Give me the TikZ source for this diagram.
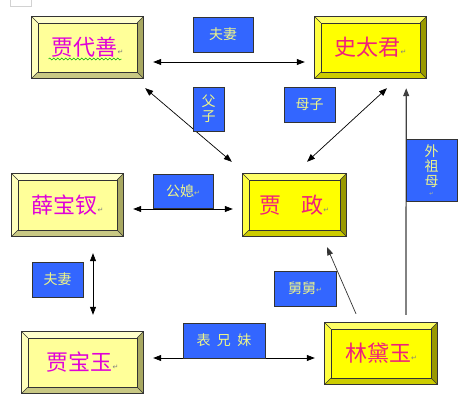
\documentclass[tikz,border=0pt]{standalone}
\usepackage{fontspec}
\newfontfamily\cjk{Noto Sans CJK SC}
\newfontfamily\dejavu{DejaVu Sans}
\usetikzlibrary{arrows.meta,calc,decorations.pathmorphing}
\definecolor{paleface}{HTML}{FFFF99}
\definecolor{paletop}{HTML}{FFFFCC}
\definecolor{paleleft}{HTML}{FFFFBB}
\definecolor{paleright}{HTML}{A8A862}
\definecolor{palebottom}{HTML}{C8C884}
\definecolor{brightface}{HTML}{FFFF00}
\definecolor{brighttop}{HTML}{FFFF66}
\definecolor{brightleft}{HTML}{FFFF40}
\definecolor{brightright}{HTML}{999900}
\definecolor{brightbottom}{HTML}{CCCC00}
\definecolor{palename}{HTML}{E000D8}
\definecolor{brightname}{HTML}{F0207A}
\definecolor{lblblue}{HTML}{3366FF}
\definecolor{lbltext}{HTML}{EEF58A}
\definecolor{edgedark}{HTML}{333333}
\newcommand\retmark[1]{{\dejavu\fontsize{7}{7}\selectfont\color{#1}\raisebox{0.3ex}{↵}}}
\newcommand\bevelparts[2]{%
  \fill[#2top] (#1.north west) -- (#1.north east) -- ($(#1.north east)+(-6,6)$) -- ($(#1.north west)+(6,6)$) -- cycle;
  \fill[#2left] (#1.north west) -- (#1.south west) -- ($(#1.south west)+(6,-6)$) -- ($(#1.north west)+(6,6)$) -- cycle;
  \fill[#2right] (#1.north east) -- (#1.south east) -- ($(#1.south east)+(-6,-6)$) -- ($(#1.north east)+(-6,6)$) -- cycle;
  \fill[#2bottom] (#1.south west) -- (#1.south east) -- ($(#1.south east)+(-6,-6)$) -- ($(#1.south west)+(6,-6)$) -- cycle;
  \draw[edgedark,line width=0.6pt] ($(#1.north west)+(6,6)$) rectangle ($(#1.south east)+(-6,-6)$);
  \draw[edgedark,line width=0.4pt] (#1.north west) -- ($(#1.north west)+(6,6)$)
     (#1.north east) -- ($(#1.north east)+(-6,6)$)
     (#1.south west) -- ($(#1.south west)+(6,-6)$)
     (#1.south east) -- ($(#1.south east)+(-6,-6)$);
  \draw[edgedark,line width=1pt] (#1.north west) rectangle (#1.south east);
}
\tikzset{
  namebox/.style={inner sep=0pt, minimum height=61pt, font=\cjk\fontsize{22}{22}\selectfont},
  palebox/.style={namebox, fill=paleface, text=palename},
  brightbox/.style={namebox, fill=brightface, text=brightname},
  lbl/.style={fill=lblblue, draw=edgedark, line width=0.6pt, inner sep=0pt, text=lbltext,
    font=\cjk\fontsize{14}{16}\selectfont, align=center},
  tip/.style={-{Triangle[length=8pt,width=6pt]}},
  dbl/.style={{Triangle[length=8pt,width=6pt]}-{Triangle[length=8pt,width=6pt]}},
  conn/.style={draw=black, line width=0.7pt},
}
\begin{document}
\begin{tikzpicture}[x=1pt,y=-1pt]
\useasboundingbox (0,0) rectangle (474,415);
\fill[white] (0,0) rectangle (474,415);
% faint corner mark
\draw[gray!35, line width=0.6pt] (10,-2) -- (10,6) -- (31,6) -- (31,-2);

% person boxes
\node[palebox, minimum width=111pt] (dai) at (87.5,47.5) {贾代善\retmark{gray}};
\node[brightbox, minimum width=111pt] (shi) at (370.5,47.5) {史太君\retmark{gray}};
\node[palebox, minimum width=111pt, minimum height=62pt] (xue) at (67.5,205) {薛宝钗\retmark{gray}};
\node[brightbox, minimum width=103pt, minimum height=62pt] (zheng) at (294.5,205) {贾\hspace{0.9em}政\retmark{gray}};
\node[palebox, minimum width=121pt] (bao) at (82.5,362.5) {贾宝玉\retmark{gray}};
\node[brightbox, minimum width=112pt] (lin) at (381,353.5) {林黛玉\retmark{gray}};

\bevelparts{dai}{pale}
\bevelparts{shi}{bright}
\bevelparts{xue}{pale}
\bevelparts{zheng}{bright}
\bevelparts{bao}{pale}
\bevelparts{lin}{bright}

% spell-check wave under 贾代善
\draw[green!70!black, line width=0.5pt, decorate, decoration={snake, amplitude=1pt, segment length=4pt}]
  ($(dai.center)+(-39,11.5)$) -- ($(dai.center)+(34,11.5)$);

% connectors
\draw[conn, dbl] ($(dai.east)+(10,14.5)$) -- ($(shi.west)+(-10,14.5)$);
\draw[conn, dbl] ($(dai.south east)+(2,10)$) -- ($(zheng.north west)+(-11,-12)$);
\draw[conn, dbl] ($(shi.south)+(16.5,10)$) -- ($(zheng.north)+(12.5,-12)$);
\draw[conn, dbl] ($(xue.east)+(10,4)$) -- ($(zheng.west)+(-10,4)$);
\draw[conn, dbl] ($(xue.south)+(25.5,17)$) -- ($(bao.north)+(10.5,-17)$);
\draw[conn, dbl] ($(bao.east)+(10,-4.5)$) -- ($(lin.west)+(-10,4.5)$);
\draw[conn, tip, draw=black!75, line width=1.2pt] ($(lin.north)+(25,-8)$) -- ($(shi.south east)+(-20,10)$);
\draw[conn, tip, draw=black!80] ($(lin.north)+(-25,-9)$) -- ($(zheng.south)+(32.5,11)$);

% relation labels
\node[lbl, minimum width=60pt, minimum height=35pt] (fq1) at (223,34.5) {夫妻};
\node[lbl, minimum width=31pt, minimum height=44pt, font=\cjk\fontsize{14}{15}\selectfont] (fz) at (208.5,109) {父\\子};
\node[lbl, minimum width=51pt, minimum height=35pt] (mz) at (309.5,104.5) {母子};
\node[lbl, minimum width=60pt, minimum height=34pt] (gx) at (183,191) {公媳\retmark{lbltext!70!gray}};
\node[lbl, minimum width=51pt, minimum height=62pt, font=\cjk\fontsize{14}{15}\selectfont] (wzm) at (431.5,170) {外\\祖\\母\\[-6pt]{\dejavu\fontsize{5}{5}\selectfont\color{lbltext!60!gray}↵}};
\node[lbl, minimum width=51pt, minimum height=35pt] (fq2) at (57.5,279.5) {夫妻};
\node[lbl, minimum width=62pt, minimum height=35pt] (jj) at (305,288.5) {舅舅\retmark{lbltext!70!gray}};
\node[lbl, minimum width=82pt, minimum height=35pt] (bxm) at (224,340.5) {表\hspace{0.45em}兄\hspace{0.45em}妹};
\end{tikzpicture}
\end{document}
